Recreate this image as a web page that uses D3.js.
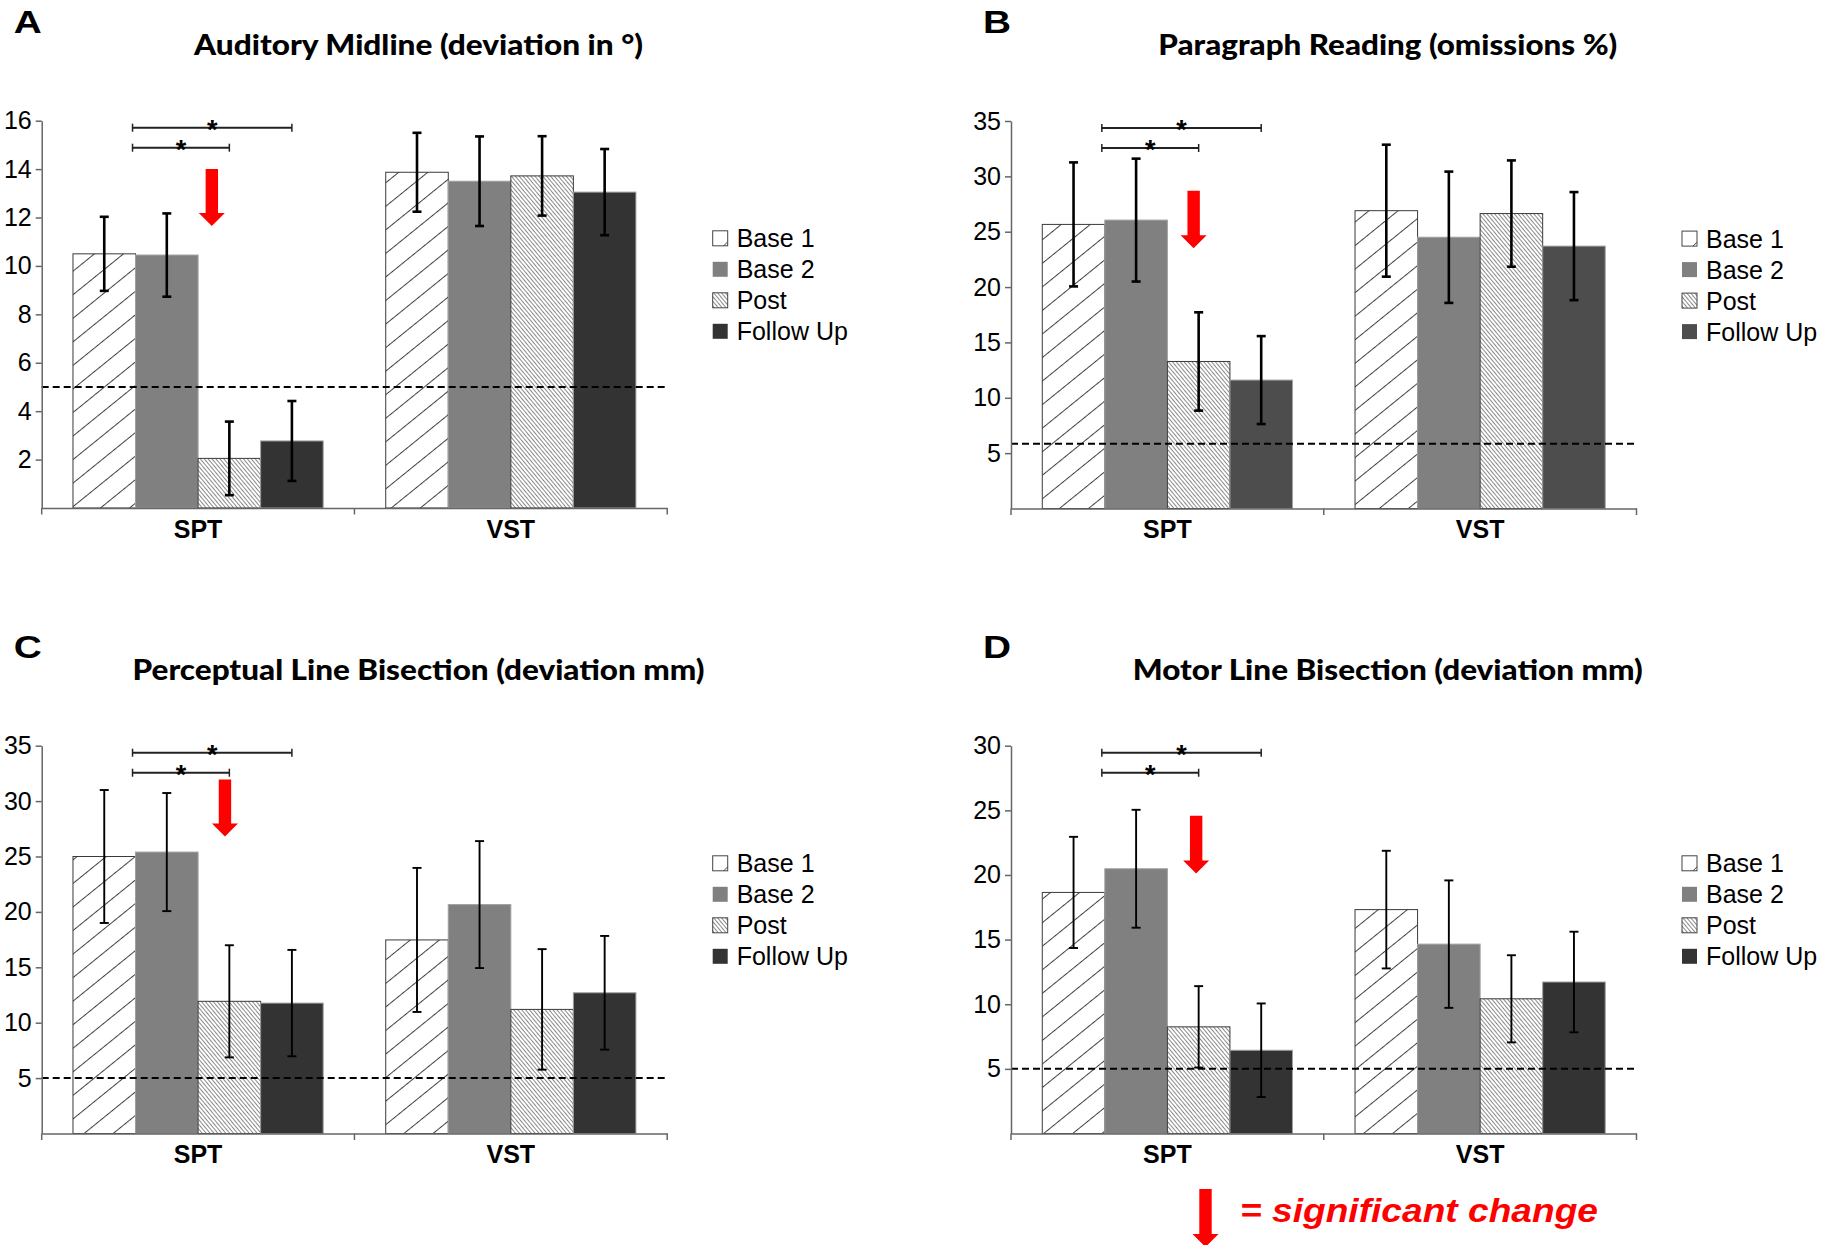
<!DOCTYPE html>
<html>
<head>
<meta charset="utf-8">
<script src="https://cdn.jsdelivr.net/npm/d3@7"></script>
<style>
  body { margin: 0; background: #fff; }
  svg { display: block; }
  .tick text { font-family: "Liberation Sans", Arial, sans-serif; }
</style>
</head>
<body>
<svg class="chart"></svg>
<script>
// chart data
var sessions = ["Base 1", "Base 2", "Post", "Follow Up"];
var groups = ["SPT", "VST"];
var letters = ["A", "B", "C", "D"];
var titles = ["Auditory Midline (deviation in °)", "Paragraph Reading (omissions %)",
              "Perceptual Line Bisection (deviation mm)", "Motor Line Bisection (deviation mm)"];
var titleWidths = [449, 459, 572, 510];
var yMax = [16, 35, 35, 30];
var yTicks = [[2, 4, 6, 8, 10, 12, 14, 16], [5, 10, 15, 20, 25, 30, 35],
              [5, 10, 15, 20, 25, 30, 35], [5, 10, 15, 20, 25, 30]];
var cutoff = [5, 5.85, 5, 5];

var sptMeans  = [[10.5, 10.45, 2.05, 2.77], [25.66, 26.05, 13.28, 11.6],
                 [25.0, 25.4, 11.93, 11.77], [18.65, 20.48, 8.25, 6.44]];
var sptErrors = [[1.53, 1.72, 1.52, 1.65], [5.6, 5.55, 4.44, 3.97],
                 [6.0, 5.33, 5.06, 4.8], [4.3, 4.56, 3.15, 3.62]];
var vstMeans  = [[13.87, 13.5, 13.72, 13.05], [26.9, 24.5, 26.64, 23.7],
                 [17.47, 20.66, 11.2, 12.7], [17.32, 14.65, 10.42, 11.72]];
var vstErrors = [[1.63, 1.85, 1.64, 1.78], [5.96, 5.93, 4.8, 4.88],
                 [6.5, 5.73, 5.44, 5.13], [4.55, 4.93, 3.37, 3.89]];

// red "significant change" arrows (value units) and asterisk brackets
var arrowTop = [14.0, 28.7, 31.95, 24.58];
var arrowTip = [11.65, 23.5, 26.8, 20.12];
var arrowShift = [0.22, 0.42, 0.43, 0.46];   // fraction of a bar past the Post bar's left edge
var brackets = [["Post", 27], ["Follow Up", 7]];

var width = 1837, height = 1245;
var svg = d3.select(".chart").attr("width", width).attr("height", height);

var lefts = [41.7, 1011, 41.7, 1011],
    tops = [120.7, 121, 745.7, 745.7],
    bottoms = [508, 508.5, 1133.5, 1133.5],
    plotW = 625.5;

var fuColor = ["#333333", "#4d4d4d", "#333333", "#333333"];
var sans = "Liberation Sans, Arial, sans-serif";

var defs = svg.append("defs");
var h1 = defs.append("pattern").attr("id", "hatch1")
  .attr("patternUnits", "userSpaceOnUse").attr("width", 10).attr("height", 18.3)
  .attr("patternTransform", "rotate(-39)");
h1.append("rect").attr("width", 10).attr("height", 18.3).attr("fill", "#fff");
h1.append("line").attr("x1", 0).attr("x2", 10).attr("y1", 0.5).attr("y2", 0.5)
  .attr("stroke", "#404040").attr("stroke-width", 1);

var h2 = defs.append("pattern").attr("id", "hatch2")
  .attr("patternUnits", "userSpaceOnUse").attr("width", 10).attr("height", 3)
  .attr("patternTransform", "rotate(50)");
h2.append("rect").attr("width", 10).attr("height", 3).attr("fill", "#fff");
h2.append("line").attr("x1", 0).attr("x2", 10).attr("y1", 0.5).attr("y2", 0.5)
  .attr("stroke", "#8a8a8a").attr("stroke-width", 1);

function fillFor(s, i) {
  if (s === "Base 1") return "url(#hatch1)";
  if (s === "Base 2") return "#808080";
  if (s === "Post") return "url(#hatch2)";
  return fuColor[i];
}
function strokeFor(s) {
  if (s === "Base 1" || s === "Post") return "#3a3a3a";
  return "#a0a0a0";
}

function arrowPath(cx, top, tip) {
  var sw = 6.2, hw = 13, hl = 13;
  return "M" + (cx - sw) + "," + top + "L" + (cx + sw) + "," + top +
         "L" + (cx + sw) + "," + (tip - hl) + "L" + (cx + hw) + "," + (tip - hl) +
         "L" + cx + "," + tip + "L" + (cx - hw) + "," + (tip - hl) +
         "L" + (cx - sw) + "," + (tip - hl) + "Z";
}

letters.forEach(function(letter, i) {
  var left = lefts[i], top = tops[i], bottom = bottoms[i];
  var g = svg.append("g");

  var x0 = d3.scaleBand().domain(groups).range([left, left + plotW]);
  var x1 = d3.scaleBand().domain(sessions).range([0, x0.bandwidth()]).paddingOuter(0.5);
  var y = d3.scaleLinear().domain([0, yMax[i]]).range([bottom, top]);

  var rows = groups.map(function(grp, gi) {
    var m = gi === 0 ? sptMeans[i] : vstMeans[i];
    var e = gi === 0 ? sptErrors[i] : vstErrors[i];
    return sessions.map(function(s, si) { return {group: grp, session: s, mean: m[si], err: e[si]}; });
  });
  var flat = d3.merge(rows);

  // bars
  g.selectAll(".bar").data(flat).enter().append("rect")
    .attr("x", function(d) { return x0(d.group) + x1(d.session); })
    .attr("y", function(d) { return y(d.mean); })
    .attr("width", x1.bandwidth())
    .attr("height", function(d) { return bottom - y(d.mean); })
    .attr("fill", function(d) { return fillFor(d.session, i); })
    .attr("stroke", function(d) { return strokeFor(d.session); })
    .attr("stroke-width", 1);

  // cut-off line
  g.append("line")
    .attr("x1", left).attr("x2", left + plotW)
    .attr("y1", y(cutoff[i])).attr("y2", y(cutoff[i]))
    .attr("stroke", "#000").attr("stroke-width", 2).attr("stroke-dasharray", "7,4");

  // error bars
  var ew = i < 2 ? 2.6 : 1.9;
  var eb = g.selectAll(".err").data(flat).enter().append("g")
    .attr("transform", function(d) { return "translate(" + (x0(d.group) + x1(d.session) + x1.bandwidth() / 2) + ",0)"; });
  eb.append("line").attr("y1", function(d) { return y(d.mean - d.err); })
    .attr("y2", function(d) { return y(d.mean + d.err); })
    .attr("stroke", "#000").attr("stroke-width", ew);
  [1, -1].forEach(function(sign) {
    eb.append("line").attr("x1", -4.5).attr("x2", 4.5)
      .attr("y1", function(d) { return y(d.mean + sign * d.err); })
      .attr("y2", function(d) { return y(d.mean + sign * d.err); })
      .attr("stroke", "#000").attr("stroke-width", ew);
  });

  // y axis
  var ya = g.append("g").attr("transform", "translate(" + left + ",0)")
    .call(d3.axisLeft(y).tickValues(yTicks[i]).tickSize(6).tickSizeOuter(0).tickPadding(4));
  ya.select(".domain").attr("stroke", "#666").attr("stroke-width", 1.5);
  ya.selectAll(".tick line").attr("stroke", "#666").attr("stroke-width", 1.5);
  ya.selectAll(".tick text").attr("font-size", 25).attr("fill", "#000");

  // x axis
  var xa = g.append("g").attr("transform", "translate(0," + bottom + ")")
    .call(d3.axisBottom(x0).tickSize(0).tickPadding(12));
  xa.select(".domain").attr("stroke", "#666").attr("stroke-width", 1.5);
  xa.selectAll(".tick text").attr("font-size", 25).attr("font-weight", "bold").attr("fill", "#000");
  g.selectAll(".xtick").data([left, left + x0.bandwidth(), left + plotW]).enter().append("line")
    .attr("x1", function(d) { return d; }).attr("x2", function(d) { return d; })
    .attr("y1", bottom).attr("y2", bottom + 6.5)
    .attr("stroke", "#666").attr("stroke-width", 1.5);

  // significance brackets
  var bx0 = x0("SPT") + x1("Base 2") - 3;
  brackets.forEach(function(b) {
    var bx1 = x0("SPT") + x1(b[0]) + x1.bandwidth() / 2;
    var by = top + b[1];
    g.append("line").attr("x1", bx0).attr("x2", bx1).attr("y1", by).attr("y2", by)
      .attr("stroke", "#222").attr("stroke-width", 2);
    [bx0, bx1].forEach(function(bx) {
      g.append("line").attr("x1", bx).attr("x2", bx).attr("y1", by - 4).attr("y2", by + 4)
        .attr("stroke", "#222").attr("stroke-width", 1.5);
    });
    g.append("text").attr("x", (bx0 + bx1) / 2).attr("y", by + 11)
      .attr("text-anchor", "middle").attr("font-family", sans)
      .attr("font-weight", "bold").attr("font-size", 27).text("*");
  });

  // red arrow
  var ax = x0("SPT") + x1("Post") + arrowShift[i] * x1.bandwidth();
  g.append("path").attr("d", arrowPath(ax, y(arrowTop[i]), y(arrowTip[i]))).attr("fill", "#ff0000");

  // legend
  var lg = g.selectAll(".leg").data(sessions).enter().append("g")
    .attr("transform", function(d, k) { return "translate(" + (left + 671) + "," + (top + 117.6 + k * 31) + ")"; });
  lg.append("rect").attr("x", 0).attr("y", -7.5).attr("width", 15).attr("height", 15)
    .attr("fill", function(d) { return d === "Base 1" ? "#fff" : fillFor(d, i); })
    .attr("stroke", function(d) { return (d === "Base 1" || d === "Post") ? "#444" : "none"; })
    .attr("stroke-width", 1);
  lg.filter(function(d) { return d === "Base 1"; }).append("line")
    .attr("x1", 11).attr("y1", 7.5).attr("x2", 15).attr("y2", 3.5)
    .attr("stroke", "#444").attr("stroke-width", 1);
  lg.append("text").attr("x", 24).attr("y", 0).attr("dy", "0.36em")
    .attr("font-family", sans).attr("font-size", 25)
    .text(function(d) { return d; });

  // title and panel letter
  g.append("text").attr("x", left + 376.8).attr("y", top - 66)
    .attr("text-anchor", "middle").attr("font-family", "Lato, 'Open Sans', sans-serif")
    .attr("font-weight", "900").attr("font-size", 28)
    .attr("textLength", titleWidths[i]).attr("lengthAdjust", "spacingAndGlyphs")
    .text(titles[i]);
  g.append("text").attr("x", left - 28).attr("y", top - 87.7)
    .attr("font-family", sans)
    .attr("font-weight", "bold").attr("font-size", 32)
    .attr("textLength", 28).attr("lengthAdjust", "spacingAndGlyphs")
    .text(letter);
});

// bottom key
svg.append("path").attr("d", arrowPath(1205.5, 1189, 1247)).attr("fill", "#ff0000");
svg.append("text").attr("x", 1240).attr("y", 1222)
  .attr("font-family", sans)
  .attr("font-weight", "bold").attr("font-style", "italic").attr("font-size", 34)
  .attr("textLength", 358).attr("lengthAdjust", "spacingAndGlyphs")
  .attr("fill", "#ff0000")
  .text("= significant change");
</script>
</body>
</html>
